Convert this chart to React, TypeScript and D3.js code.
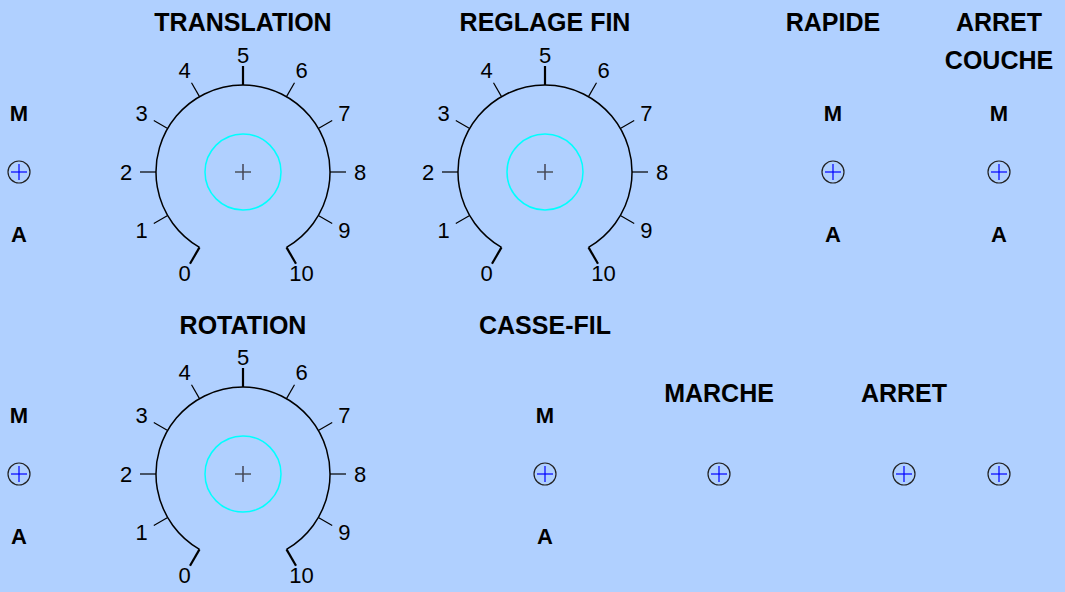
import * as d3 from "d3";

// dial scale graduations
const dialTicks = [0, 1, 2, 3, 4, 5, 6, 7, 8, 9, 10];
const majorTicks = [0, 5, 10];

// dial titles
const dialTitles = ["TRANSLATION", "REGLAGE FIN", "ROTATION"];

// switch groups (M / A selectors)
const selectorLabels = ["M", "A"];
const selectorTitles = ["", "RAPIDE", "ARRET\nCOUCHE", "", "CASSE-FIL"];

// single push buttons
const buttonTitles = ["MARCHE", "ARRET", ""];

const W = 1065;
const H = 592;
const FONT = "'Liberation Sans', Arial, sans-serif";

const dialPos = [
  { x: 243, y: 172, ty: 31 },
  { x: 545, y: 172, ty: 31 },
  { x: 243, y: 474, ty: 334 },
];
const selectorPos = [
  { x: 19, y: 172, ty: 0 },
  { x: 833, y: 172, ty: 31 },
  { x: 999, y: 172, ty: 31 },
  { x: 19, y: 474, ty: 0 },
  { x: 545, y: 474, ty: 334 },
];
const buttonPos = [
  { x: 719, y: 474, ty: 402 },
  { x: 904, y: 474, ty: 402 },
  { x: 999, y: 474, ty: 402 },
];

const R = 87;
const angle = d3.scaleLinear().domain([0, 10]).range([-150, 150]);
const rad = (d: number) => (angle(d) * Math.PI) / 180;
const pt = (r: number, d: number): [number, number] => [r * Math.sin(rad(d)), -r * Math.cos(rad(d))];

const Switch = () => (
  <g>
    <circle r={11} fill="none" stroke="#222" strokeWidth={1.2} />
    <line x1={-8} x2={8} y1={0} y2={0} stroke="#0000ff" strokeWidth={1.2} />
    <line x1={0} x2={0} y1={-8} y2={8} stroke="#0000ff" strokeWidth={1.2} />
  </g>
);

const Title = ({ text, x, y }: { text: string; x: number; y: number }) => (
  <text x={x} y={y} textAnchor="middle" fontFamily={FONT} fontWeight="bold" fontSize={25} fill="#000">
    {text.split("\n").map((t, i) => (
      <tspan key={i} x={x} dy={i === 0 ? 0 : 38}>
        {t}
      </tspan>
    ))}
  </text>
);

const Dial = ({ title, x, y, ty }: { title: string; x: number; y: number; ty: number }) => {
  const p = d3.path();
  p.arc(0, 0, R, rad(0) - Math.PI / 2, rad(10) - Math.PI / 2);
  return (
    <g>
      <Title text={title} x={x} y={ty} />
      <g transform={`translate(${x},${y})`}>
        <path d={p.toString()} fill="none" stroke="#000" strokeWidth={1.5} />
        {dialTicks.map((d) => {
          const major = majorTicks.includes(d);
          const [x1, y1] = pt(R, d);
          const [x2, y2] = pt(major ? R + 19 : R + 16, d);
          const [lx, ly] = pt(117, d);
          return (
            <g key={d}>
              <line x1={x1} y1={y1} x2={x2} y2={y2} stroke="#000" strokeWidth={major ? 2.2 : 1.2} />
              <text x={lx} y={ly} textAnchor="middle" dominantBaseline="central" fontFamily={FONT} fontSize={22} fill="#000">
                {d}
              </text>
            </g>
          );
        })}
        <circle r={38} fill="none" stroke="#00ffff" strokeWidth={1.5} />
        <line x1={-8} x2={8} y1={0} y2={0} stroke="#333" strokeWidth={1.2} />
        <line x1={0} x2={0} y1={-8} y2={8} stroke="#445" strokeWidth={1.5} />
      </g>
    </g>
  );
};

const App = () => (
  <div style={{ position: "fixed", left: 0, top: 0 }}>
    <svg width={W} height={H} style={{ display: "block" }}>
      <rect width={W} height={H} fill="#b0d0ff" />
      {dialTitles.map((t, i) => (
        <Dial key={t} title={t} {...dialPos[i]} />
      ))}
      {selectorTitles.map((t, i) => {
        const { x, y, ty } = selectorPos[i];
        return (
          <g key={i}>
            {t && <Title text={t} x={x} y={ty} />}
            {selectorLabels.map((l, j) => (
              <text key={l} x={x} y={y + (j === 0 ? -59 : 62)} textAnchor="middle" dominantBaseline="central" fontFamily={FONT} fontWeight="bold" fontSize={22} fill="#000">
                {l}
              </text>
            ))}
            <g transform={`translate(${x},${y})`}>
              <Switch />
            </g>
          </g>
        );
      })}
      {buttonTitles.map((t, i) => {
        const { x, y, ty } = buttonPos[i];
        return (
          <g key={i}>
            {t && <Title text={t} x={x} y={ty} />}
            <g transform={`translate(${x},${y})`}>
              <Switch />
            </g>
          </g>
        );
      })}
    </svg>
  </div>
);

export default App;
